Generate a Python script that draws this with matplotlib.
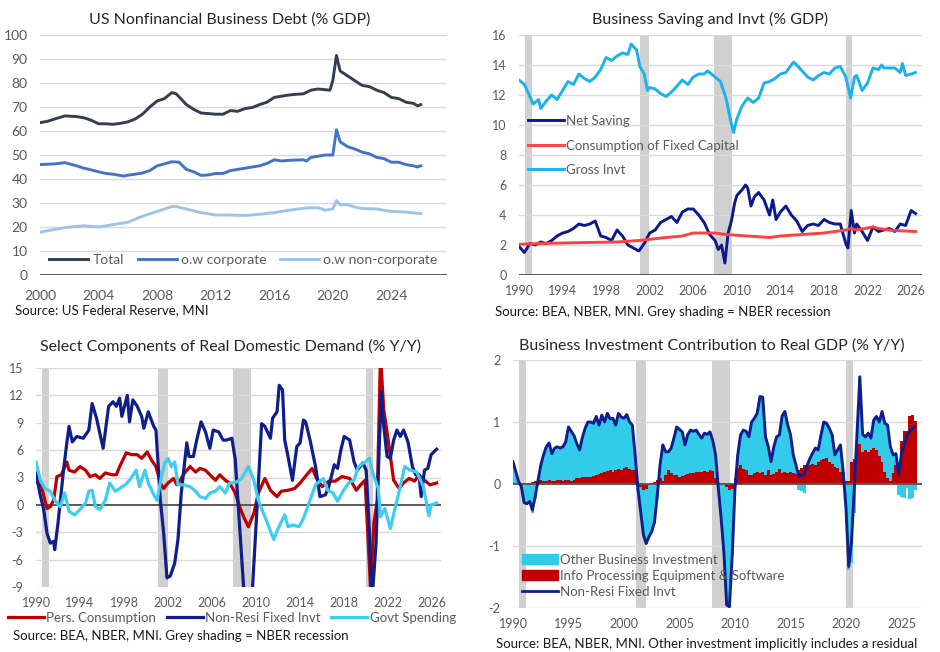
import numpy as np
import matplotlib
matplotlib.use('Agg')
import matplotlib.pyplot as plt
from matplotlib.patches import Patch

plt.rcParams['font.family'] = ['Lato', 'DejaVu Sans']
plt.rcParams['axes.unicode_minus'] = False

# ---- panel 1: US nonfinancial business debt (% GDP)
debt_total_yr = [2000.0, 2000.5, 2001.0, 2001.7, 2002.5, 2003.0, 2003.5, 2004.0, 2004.5, 2005.0,
                 2005.5, 2006.0, 2006.5, 2007.0, 2007.5, 2008.0, 2008.5, 2009.0, 2009.3, 2010.0,
                 2010.5, 2011.0, 2012.0, 2012.5, 2013.0, 2013.5, 2014.0, 2014.5, 2015.0, 2015.5,
                 2016.0, 2016.5, 2017.0, 2017.5, 2018.0, 2018.5, 2019.0, 2019.8, 2020.0, 2020.25,
                 2020.5, 2021.0, 2021.5, 2022.0, 2022.5, 2023.0, 2023.5, 2024.0, 2024.5, 2025.0,
                 2025.5, 2025.8, 2026.0]
debt_total = [63.5, 64.0, 65.0, 66.3, 66.0, 65.5, 64.5, 63.0, 63.0, 62.8,
              63.2, 63.8, 65.0, 67.0, 70.0, 72.5, 73.5, 76.0, 75.5, 71.0,
              69.0, 67.5, 67.0, 67.0, 68.5, 68.2, 69.3, 69.8, 71.0, 72.0,
              74.0, 74.5, 75.0, 75.3, 75.5, 77.0, 77.5, 77.0, 81.0, 91.5,
              85.0, 83.0, 81.0, 79.0, 78.5, 77.0, 76.0, 74.0, 73.5, 72.0,
              71.5, 70.5, 71.0]
debt_corp_yr = [2000.0, 2001.0, 2001.7, 2002.5, 2003.0, 2003.5, 2004.0, 2004.5, 2005.0, 2005.7,
                2006.0, 2006.5, 2007.0, 2007.5, 2008.0, 2008.5, 2009.0, 2009.5, 2010.0, 2010.5,
                2011.0, 2011.5, 2012.0, 2012.5, 2013.0, 2014.0, 2014.5, 2015.0, 2015.5, 2016.0,
                2016.5, 2017.0, 2018.0, 2018.2, 2018.5, 2019.0, 2019.5, 2020.0, 2020.25, 2020.5,
                2021.0, 2021.5, 2022.0, 2022.5, 2023.0, 2023.5, 2024.0, 2024.5, 2025.0, 2025.5,
                2025.8, 2026.0]
debt_corp = [46.0, 46.3, 46.8, 45.5, 44.5, 43.8, 43.0, 42.3, 42.0, 41.2,
             41.6, 42.0, 42.5, 43.5, 45.5, 46.3, 47.2, 47.0, 44.0, 43.0,
             41.5, 41.7, 42.3, 42.3, 43.5, 44.5, 45.0, 45.5, 46.5, 48.0,
             47.5, 47.8, 48.0, 47.5, 49.0, 49.5, 50.0, 50.0, 60.5, 55.5,
             53.5, 52.5, 51.2, 50.5, 49.0, 48.5, 47.0, 47.0, 46.0, 45.5,
             45.0, 45.5]
debt_noncorp_yr = [2000.0, 2001.0, 2002.0, 2003.0, 2004.0, 2005.0, 2006.0, 2007.0, 2008.0, 2009.0,
                   2009.3, 2010.0, 2011.0, 2012.0, 2013.0, 2014.0, 2015.0, 2016.0, 2017.0, 2018.0,
                   2018.5, 2019.0, 2019.5, 2020.0, 2020.25, 2020.5, 2021.0, 2021.5, 2022.0, 2023.0,
                   2024.0, 2025.0, 2026.0]
debt_noncorp = [17.8, 19.0, 20.0, 20.5, 20.0, 21.0, 22.0, 24.5, 26.5, 28.5,
                28.5, 27.5, 26.0, 25.0, 25.0, 24.8, 25.3, 26.0, 27.0, 27.8,
                28.0, 28.0, 27.0, 27.5, 31.0, 29.3, 29.3, 28.3, 27.7, 27.5,
                26.5, 26.2, 25.6]

# ---- panel 2: business saving and investment (% GDP)
inv_yr = [1990.0, 1990.5, 1991.3, 1991.8, 1992.0, 1992.5, 1993.0, 1993.5, 1994.0, 1994.5,
          1995.0, 1995.5, 1996.0, 1996.5, 1997.0, 1997.5, 1998.0, 1998.5, 1999.0, 1999.5,
          2000.0, 2000.3, 2000.8, 2001.1, 2001.5, 2001.8, 2002.0, 2002.5, 2003.0, 2003.5,
          2004.0, 2004.5, 2005.0, 2005.5, 2006.0, 2006.5, 2007.0, 2007.3, 2007.5, 2008.0,
          2008.5, 2009.0, 2009.4, 2009.7, 2010.0, 2010.5, 2011.0, 2011.5, 2012.0, 2012.5,
          2013.0, 2013.5, 2014.0, 2014.5, 2015.0, 2015.2, 2015.5, 2016.0, 2016.5, 2017.0,
          2017.5, 2018.0, 2018.5, 2019.0, 2019.5, 2020.0, 2020.45, 2020.8, 2021.0, 2021.5,
          2022.0, 2022.5, 2023.0, 2023.3, 2023.5, 2024.0, 2024.5, 2025.0, 2025.2, 2025.5,
          2026.0, 2026.4]
gross_invt = [13.0, 12.7, 11.4, 11.7, 11.1, 11.6, 12.0, 11.7, 12.3, 12.9,
              12.7, 13.4, 13.1, 12.9, 13.2, 13.7, 14.5, 14.3, 14.6, 14.8,
              14.7, 15.4, 15.0, 13.9, 13.4, 12.3, 12.5, 12.4, 12.1, 11.9,
              12.2, 12.6, 13.0, 12.7, 13.2, 13.4, 13.4, 13.6, 13.5, 13.2,
              12.9, 11.8, 10.4, 9.5, 10.4, 11.3, 11.8, 11.5, 11.8, 12.8,
              12.9, 13.1, 13.4, 13.5, 14.0, 14.2, 14.0, 13.6, 13.2, 13.0,
              13.3, 13.5, 13.4, 13.8, 13.9, 13.2, 11.8, 13.2, 13.3, 12.3,
              12.8, 13.8, 13.7, 14.0, 13.8, 13.8, 13.8, 13.5, 14.1, 13.3,
              13.4, 13.5]
sav_yr = [1990.0, 1990.5, 1991.0, 1991.5, 1992.0, 1992.5, 1993.0, 1993.5, 1994.0, 1994.5,
          1995.0, 1995.5, 1996.0, 1996.5, 1997.0, 1997.5, 1998.0, 1998.5, 1999.0, 1999.5,
          2000.0, 2000.5, 2001.0, 2001.5, 2002.0, 2002.5, 2003.0, 2003.5, 2004.0, 2004.5,
          2005.0, 2005.5, 2006.0, 2006.5, 2007.0, 2007.5, 2008.0, 2008.3, 2008.6, 2008.9,
          2009.2, 2009.5, 2009.8, 2010.0, 2010.5, 2010.8, 2011.0, 2011.3, 2011.6, 2012.0,
          2012.5, 2013.0, 2013.3, 2013.6, 2014.0, 2014.5, 2015.0, 2015.5, 2016.0, 2016.5,
          2017.0, 2017.5, 2018.0, 2018.5, 2019.0, 2019.5, 2020.0, 2020.2, 2020.5, 2020.8,
          2021.0, 2021.5, 2022.0, 2022.5, 2023.0, 2023.5, 2024.0, 2024.5, 2025.0, 2025.5,
          2026.0, 2026.4]
net_saving = [1.9, 1.5, 2.1, 2.0, 2.2, 2.1, 2.3, 2.6, 2.8, 2.9,
              3.1, 3.4, 3.3, 3.4, 3.6, 2.6, 2.5, 2.3, 3.0, 2.6,
              2.0, 1.8, 1.6, 2.1, 2.8, 3.0, 3.5, 3.7, 3.9, 3.5,
              4.2, 4.4, 4.4, 4.0, 3.5, 2.7, 2.3, 1.7, 2.0, 0.8,
              2.8, 3.6, 4.8, 5.3, 5.7, 6.0, 5.8, 4.6, 5.2, 5.5,
              5.0, 4.0, 5.0, 3.7, 4.2, 4.6, 4.0, 3.6, 2.9, 3.3,
              3.4, 3.3, 3.7, 3.5, 3.4, 3.4, 2.1, 1.8, 4.3, 2.8,
              3.4, 2.9, 2.3, 3.2, 2.9, 3.0, 3.1, 2.9, 3.4, 3.3,
              4.3, 4.1]
cfc_yr = [1990.0, 1992.0, 1995.0, 1999.0, 2001.0, 2003.5, 2005.0, 2006.0, 2008.0, 2009.0,
          2011.0, 2013.0, 2014.0, 2016.0, 2018.0, 2019.0, 2020.0, 2020.5, 2021.0, 2022.5,
          2023.0, 2024.0, 2025.0, 2026.4]
cfc = [2.05, 2.1, 2.15, 2.2, 2.3, 2.5, 2.6, 2.8, 2.8, 2.7,
       2.6, 2.5, 2.6, 2.7, 2.8, 2.9, 3.0, 3.1, 3.0, 3.2,
       3.1, 3.0, 2.95, 2.9]

# ---- panel 3: select components of real domestic demand (% y/y)
pce_yr = [1990.0, 1990.5, 1991.0, 1991.3, 1991.6, 1991.9, 1992.3, 1992.8, 1993.0, 1993.5,
          1994.0, 1994.5, 1994.9, 1995.4, 1995.8, 1996.3, 1996.9, 1997.3, 1997.6, 1998.2,
          1998.7, 1999.2, 1999.6, 2000.1, 2000.5, 2000.9, 2001.3, 2001.6, 2002.0, 2002.5,
          2002.8, 2003.1, 2003.5, 2004.0, 2004.5, 2004.9, 2005.4, 2005.8, 2006.3, 2006.7,
          2007.2, 2007.6, 2008.1, 2008.5, 2008.9, 2009.3, 2009.8, 2010.2, 2010.8, 2011.3,
          2011.9, 2012.3, 2012.9, 2013.5, 2014.0, 2014.6, 2015.1, 2015.5, 2016.0, 2016.6,
          2017.2, 2017.8, 2018.5, 2019.1, 2019.5, 2019.9, 2020.4, 2020.7, 2021.0, 2021.3,
          2021.6, 2021.9, 2022.2, 2022.5, 2023.0, 2023.4, 2023.9, 2024.4, 2024.8, 2025.3,
          2025.8, 2026.4]
pce = [2.6, 2.0, -0.4, -0.2, 0.5, 3.1, 3.3, 4.7, 3.8, 3.6,
       4.2, 3.8, 3.1, 3.3, 2.9, 3.5, 3.3, 3.3, 4.2, 5.7,
       5.5, 5.5, 5.1, 5.8, 4.9, 4.2, 2.4, 1.8, 2.4, 2.9,
       2.2, 2.7, 3.5, 4.2, 3.6, 4.0, 3.8, 3.3, 2.7, 3.3,
       2.7, 2.4, 1.3, -0.2, -1.4, -2.4, -0.9, 1.3, 2.9, 1.6,
       0.9, 1.5, 1.6, 1.8, 2.4, 3.3, 4.0, 2.9, 2.0, 2.6,
       2.6, 3.1, 2.9, 1.6, 2.2, 2.7, -9.2, -2.0, 0.5, 16.5,
       10.4, 8.0, 5.3, 2.7, 1.8, 2.4, 2.9, 2.6, 3.3, 2.7,
       2.2, 2.4]
nrfi_yr = [1990.0, 1990.4, 1990.7, 1991.0, 1991.3, 1991.6, 1991.7, 1992.0, 1992.5, 1992.8,
           1993.0, 1993.3, 1993.7, 1994.3, 1994.8, 1995.1, 1995.5, 1996.1, 1996.6, 1997.0,
           1997.3, 1997.6, 1997.8, 1998.3, 1998.5, 1998.8, 1999.2, 1999.6, 1999.8, 2000.2,
           2000.7, 2000.9, 2001.3, 2001.6, 2001.9, 2002.2, 2002.6, 2002.9, 2003.2, 2003.7,
           2003.9, 2004.3, 2004.6, 2005.0, 2005.4, 2005.8, 2006.1, 2006.6, 2007.0, 2007.3,
           2007.8, 2008.1, 2009.3, 2010.1, 2010.5, 2010.8, 2011.3, 2011.5, 2011.9, 2012.1,
           2012.4, 2012.6, 2012.9, 2013.3, 2013.7, 2014.0, 2014.3, 2014.5, 2014.9, 2015.4,
           2015.8, 2016.3, 2016.6, 2017.1, 2017.4, 2017.7, 2018.0, 2018.5, 2018.9, 2019.2,
           2019.7, 2020.0, 2020.3, 2020.5, 2020.9, 2021.2, 2021.4, 2021.6, 2021.9, 2022.2,
           2022.5, 2022.8, 2023.1, 2023.4, 2023.8, 2024.2, 2024.5, 2024.8, 2025.0, 2025.3,
           2025.6, 2025.9, 2026.4]
nrfi = [3.5, 1.0, -0.5, -3.1, -4.2, -4.0, -4.9, -2.0, 3.8, 6.8,
        8.6, 6.9, 7.5, 7.3, 8.2, 11.1, 9.5, 6.2, 10.8, 11.3,
        10.8, 11.7, 9.7, 12.0, 9.1, 11.5, 10.8, 9.7, 8.4, 10.2,
        8.6, 8.2, 0.5, -3.1, -8.0, -7.8, -6.4, -3.8, 1.3, 6.8,
        5.3, 5.3, 7.1, 9.1, 8.0, 6.2, 8.2, 8.0, 7.1, 7.1,
        7.3, 5.0, -17.0, 0.0, 8.9, 8.6, 7.3, 9.5, 10.2, 13.1,
        12.6, 7.1, 5.3, 2.7, 6.4, 6.8, 9.3, 9.1, 7.1, 4.2,
        0.9, 1.1, 2.0, 4.4, 4.0, 6.0, 7.5, 7.1, 4.7, 3.8,
        4.6, 3.8, -3.1, -11.0, -4.2, 6.8, 12.4, 8.6, 5.3, 5.1,
        7.1, 8.2, 7.5, 8.2, 6.9, 4.2, 3.3, 3.3, 0.9, 3.8,
        4.0, 5.5, 6.1]
gov_yr = [1990.0, 1990.4, 1990.8, 1991.3, 1991.7, 1992.2, 1992.6, 1993.0, 1993.5, 1994.0,
          1994.5, 1994.8, 1995.1, 1995.4, 1995.8, 1996.3, 1996.7, 1997.2, 1997.6, 1998.1,
          1998.5, 1999.1, 1999.4, 1999.9, 2000.2, 2000.7, 2001.0, 2001.4, 2001.7, 2002.0,
          2002.3, 2002.6, 2002.9, 2003.4, 2004.0, 2004.5, 2004.9, 2005.4, 2005.8, 2006.3,
          2006.7, 2007.2, 2007.6, 2008.2, 2008.7, 2009.3, 2009.8, 2010.2, 2010.8, 2011.6,
          2012.0, 2012.6, 2012.9, 2013.4, 2013.9, 2014.3, 2014.8, 2015.4, 2016.1, 2016.5,
          2017.0, 2017.4, 2017.9, 2018.4, 2018.9, 2019.3, 2019.9, 2020.3, 2020.6, 2021.1,
          2021.3, 2021.7, 2022.2, 2022.6, 2023.1, 2023.5, 2024.0, 2024.6, 2025.2, 2025.7,
          2025.9, 2026.4]
gov = [4.7, 2.7, 1.8, 1.5, 0.5, -0.2, 1.3, -0.7, -1.1, -0.5,
       0.2, 1.5, 1.6, -0.2, -0.5, 0.5, 2.4, 1.5, 1.8, 2.2,
       2.7, 3.8, 2.0, 3.8, 2.4, 1.1, 0.5, 3.1, 4.6, 5.1,
       4.2, 4.7, 2.2, 2.2, 2.0, 1.5, 0.9, 0.7, 1.3, 1.5,
       2.0, 1.3, 2.4, 2.5, 2.9, 4.2, 2.7, 0.5, -1.3, -3.8,
       -2.6, -1.1, -2.4, -2.2, -2.4, -1.5, 0.2, 2.2, 2.9, 1.6,
       1.3, 0.4, 1.5, 2.4, 2.7, 4.2, 4.7, 5.1, 3.5, 1.8,
       -1.3, -0.4, -2.6, -0.5, 2.0, 4.2, 3.8, 3.6, 2.0, -1.2,
       0.0, 0.2]

# ---- panel 4: business investment contribution to real GDP (% y/y), quarterly from 1990Q1
bi_start = 1990.0
nrfi_contrib = [0.36, 0.20, 0.04, -0.04, -0.30, -0.32, -0.28, -0.42, -0.20, 0.05,
                0.30, 0.47, 0.60, 0.66, 0.49, 0.58, 0.60, 0.58, 0.60, 0.68,
                0.92, 0.85, 0.78, 0.65, 0.55, 0.75, 0.90, 1.00, 1.00, 0.98,
                1.09, 0.95, 1.11, 1.00, 1.14, 1.05, 1.06, 0.95, 1.14, 1.08,
                1.06, 1.12, 1.00, 0.95, 0.47, -0.07, -0.45, -0.82, -0.96, -0.85,
                -0.77, -0.61, -0.18, 0.31, 0.63, 0.52, 0.52, 0.58, 0.74, 0.92,
                0.88, 0.84, 0.63, 0.80, 0.87, 0.85, 0.87, 0.80, 0.74, 0.82,
                0.80, 0.84, 0.70, 0.47, -0.07, -0.55, -1.10, -1.95, -1.98, -1.15,
                -0.07, 0.47, 0.79, 0.87, 0.85, 0.76, 1.00, 1.06, 1.14, 1.41,
                1.40, 0.76, 0.60, 0.36, 0.60, 0.76, 0.79, 1.10, 1.17, 0.95,
                0.80, 0.47, 0.30, 0.12, 0.14, 0.15, 0.30, 0.41, 0.50, 0.58,
                0.55, 0.79, 1.00, 0.98, 0.90, 0.79, 0.47, 0.55, 0.63, 0.20,
                -0.39, -1.33, -0.93, -0.07, 0.84, 1.73, 0.80, 0.76, 0.82, 0.74,
                1.03, 1.09, 1.00, 1.17, 0.98, 0.95, 0.60, 0.47, 0.49, 0.15,
                0.49, 0.63, 0.79, 0.85, 0.90, 0.92]
info_contrib = [0.01, 0.01, 0.00, 0.00, 0.00, 0.01, 0.02, 0.04, 0.05, 0.06,
                0.06, 0.05, 0.05, 0.06, 0.05, 0.05, 0.06, 0.06, 0.05, 0.06,
                0.06, 0.05, 0.07, 0.09, 0.10, 0.11, 0.11, 0.12, 0.12, 0.13,
                0.14, 0.16, 0.17, 0.20, 0.21, 0.22, 0.20, 0.22, 0.24, 0.22,
                0.25, 0.28, 0.24, 0.23, 0.23, 0.05, -0.05, -0.10, -0.08, -0.02,
                0.02, 0.04, 0.06, 0.10, 0.05, 0.15, 0.22, 0.18, 0.15, 0.14,
                0.12, 0.13, 0.15, 0.16, 0.17, 0.18, 0.20, 0.19, 0.20, 0.21,
                0.20, 0.22, 0.21, 0.10, 0.02, 0.00, -0.02, -0.05, -0.10, -0.08,
                0.10, 0.25, 0.30, 0.24, 0.22, 0.15, 0.14, 0.18, 0.20, 0.18,
                0.20, 0.15, 0.22, 0.14, 0.16, 0.20, 0.24, 0.18, 0.20, 0.18,
                0.20, 0.18, 0.16, 0.22, 0.25, 0.30, 0.28, 0.30, 0.32, 0.30,
                0.35, 0.38, 0.40, 0.42, 0.36, 0.33, 0.28, 0.25, 0.20, 0.10,
                0.05, 0.05, 0.35, 0.40, 0.60, 0.65, 0.52, 0.55, 0.52, 0.55,
                0.58, 0.55, 0.45, 0.35, 0.20, 0.10, 0.05, 0.18, 0.30, 0.32,
                0.70, 0.85, 0.85, 1.10, 1.12, 1.02]

recessions = [(1990.55, 1991.2), (2001.1, 2001.95), (2007.9, 2009.55), (2020.0, 2020.6)]

GRID = '#d9d9d9'
AXIS = '#595959'
TICK = '#595959'
SHADE = '#d0d0d0'


def px(x):
    return x / 940


def py(y):
    return 1 - y / 652


def base(ax, xlim, xticks, ylim, yticks, tick_size=9, xpad=7):
    ax.set_xlim(*xlim)
    ax.set_ylim(*ylim)
    ax.set_xticks(xticks)
    ax.set_yticks(yticks)
    ax.set_yticklabels([str(v) for v in yticks])
    for s in ax.spines.values():
        s.set_visible(False)
    ax.tick_params(length=0, labelsize=tick_size, labelcolor=TICK)
    ax.tick_params(axis='y', pad=9)
    ax.tick_params(axis='x', pad=xpad)
    for v in yticks:
        if v != 0:
            ax.axhline(v, color=GRID, lw=1.0, zorder=0.5)
    ax.axhline(0, color=AXIS, lw=1.4, zorder=3)


def shade(ax):
    for a, b in recessions:
        ax.axvspan(a, b, color=SHADE, lw=0, zorder=0.2)


fig = plt.figure(figsize=(9.4, 6.52), dpi=100)

# panel 1
ax1 = fig.add_axes([px(40), py(275), px(407), 240 / 652])
base(ax1, (2000, 2027.8), range(2000, 2025, 4), (0, 100), list(range(0, 101, 10)),
     tick_size=10, xpad=11)
ax1.plot(debt_total_yr, debt_total, color='#333f50', lw=2.1, label='Total', zorder=4)
ax1.plot(debt_corp_yr, debt_corp, color='#4472c4', lw=2.1, label='o.w corporate', zorder=4)
ax1.plot(debt_noncorp_yr, debt_noncorp, color='#9dc3e6', lw=2.1, label='o.w non-corporate', zorder=4)
ax1.legend(loc='center', bbox_to_anchor=(0.5, 0.0625), ncol=3, frameon=False,
           fontsize=10, labelcolor=TICK, handlelength=2.8, columnspacing=1.0,
           handletextpad=0.3, borderpad=0)

# panel 2
ax2 = fig.add_axes([px(519), py(275), px(403), 240 / 652])
base(ax2, (1990, 2027), range(1990, 2027, 4), (0, 16), list(range(0, 17, 2)))
shade(ax2)
ax2.plot(sav_yr, net_saving, color='#0a1a8c', lw=2.1, label='Net Saving', zorder=4)
ax2.plot(cfc_yr, cfc, color='#ff4040', lw=2.1, label='Consumption of Fixed Capital', zorder=4)
ax2.plot(inv_yr, gross_invt, color='#1ab2ee', lw=2.1, label='Gross Invt', zorder=4)
ax2.legend(loc='upper left', bbox_to_anchor=(0.0, 0.705), frameon=False, fontsize=9.5,
           labelcolor=TICK, handlelength=2.7, handletextpad=0.2, labelspacing=0.95,
           borderpad=0.2)

# panel 3
ax3 = fig.add_axes([px(36), py(587), px(405), 219 / 652])
base(ax3, (1990, 2026.8), range(1990, 2027, 4), (-9, 15), list(range(-9, 16, 3)))
shade(ax3)
ax3.plot(pce_yr, pce, color='#c00000', lw=2.3, label='Pers. Consumption', zorder=4)
ax3.plot(nrfi_yr, nrfi, color='#0f1e8a', lw=2.3, label='Non-Resi Fixed Invt', zorder=4)
ax3.plot(gov_yr, gov, color='#3dcdee', lw=2.3, label='Govt Spending', zorder=4)
ax3.legend(loc='center', bbox_to_anchor=(0.484, -0.142), ncol=3, frameon=False,
           fontsize=9.5, labelcolor=TICK, handlelength=2.7, columnspacing=0.8,
           handletextpad=0.2, borderpad=0)

# panel 4
ax4 = fig.add_axes([px(513), py(608), px(409), 248 / 652])
base(ax4, (1990, 2026.85), range(1990, 2026, 5), (-2, 2), [-2, -1, 0, 1, 2])
shade(ax4)
q = bi_start + 0.25 * np.arange(len(nrfi_contrib))
info = np.array(info_contrib)
total = np.array(nrfi_contrib)
other = total - info
other_bottom = np.where(other >= 0, np.maximum(info, 0), np.minimum(info, 0))
ax4.bar(q, other, width=0.26, bottom=other_bottom, color='#33cbea', lw=0, zorder=2,
        antialiased=False)
ax4.bar(q, info, width=0.26, color='#c00000', lw=0, zorder=2.1, antialiased=False)
ax4.plot(q, total, color='#0f1e8a', lw=2.1, zorder=4)
handles4 = [Patch(color='#33cbea', label='Other Business Investment'),
            Patch(color='#c00000', label='Info Processing Equipment & Software'),
            plt.Line2D([], [], color='#0f1e8a', lw=2, label='Non-Resi Fixed Invt')]
ax4.legend(handles=handles4, loc='lower left', bbox_to_anchor=(0.0, 0.005), frameon=False,
           fontsize=9.5, labelcolor=TICK, handlelength=2.7, handleheight=0.85,
           handletextpad=0.2, labelspacing=0.3, borderpad=0.2)

# titles and sources
title_kw = dict(ha='center', va='center', fontsize=11.5, color='#262626')
fig.text(px(230), py(20), 'US Nonfinancial Business Debt (% GDP)', **title_kw)
fig.text(px(710), py(19), 'Business Saving and Invt (% GDP)', **title_kw)
fig.text(px(230), py(346), 'Select Components of Real Domestic Demand (% Y/Y)', **title_kw)
fig.text(px(712), py(346), 'Business Investment Contribution to Real GDP (% Y/Y)', **title_kw)

src_kw = dict(ha='left', va='center', fontsize=9.5, color='#1a1a1a')
fig.text(px(15), py(310), 'Source: US Federal Reserve, MNI', **src_kw)
fig.text(px(495), py(312), 'Source: BEA, NBER, MNI. Grey shading = NBER recession', **src_kw)
fig.text(px(13), py(636), 'Source: BEA, NBER, MNI. Grey shading = NBER recession', **src_kw)
fig.text(px(496), py(644), 'Source: BEA, NBER, MNI. Other investment implicitly includes a residual',
         **src_kw)

fig.savefig('out.png', dpi=100)
